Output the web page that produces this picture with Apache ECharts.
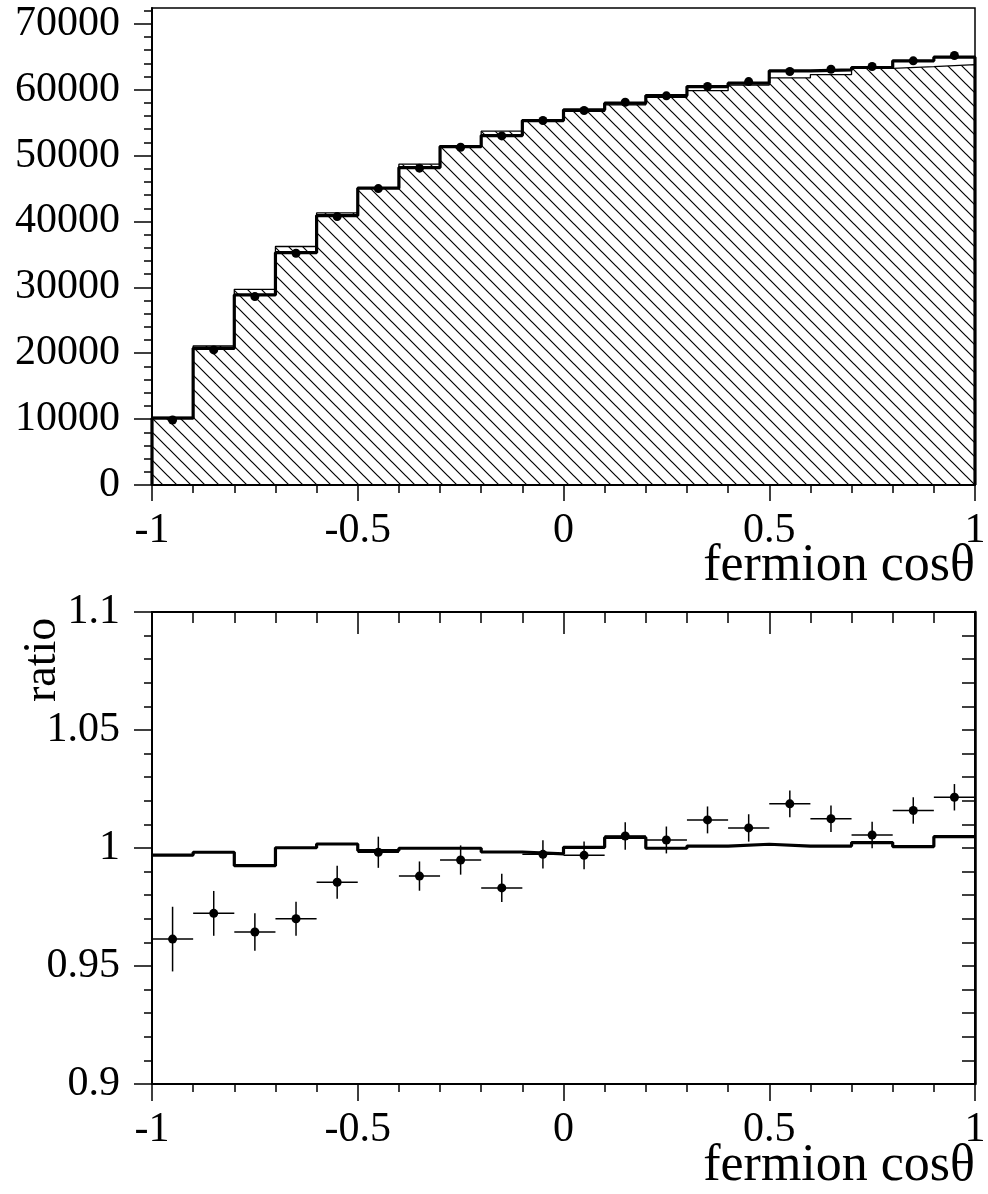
<!DOCTYPE html>
<html><head><meta charset="utf-8">
<script src="https://cdn.jsdelivr.net/npm/echarts@6/dist/echarts.min.js"></script>
<style>html,body{margin:0;padding:0;background:#fff}#c{width:988px;height:1194px}</style>
</head><body><div id="c"></div>
<script>
// ---- data ----
const binEdges = [-1.0,-0.9,-0.8,-0.7,-0.6,-0.5,-0.4,-0.3,-0.2,-0.1,0.0,0.1,0.2,0.3,0.4,0.5,0.6,0.7,0.8,0.9,1.0];
const mcHatched = [10300,21100,29700,36200,41300,45100,48700,51500,53700,55450,56700,57700,58850,59850,60700,61800,62300,63250,63500,63800];
const mcThick = [10130,20750,28850,35270,40900,45050,48180,51370,53040,55320,56940,57950,59110,60480,60990,62860,63010,63370,64380,64940];
const dataTop = [9870,20500,28600,35180,40740,44990,48090,51270,52990,55320,56840,58100,59070,60480,61230,62760,63110,63520,64380,65190];
const ratioLine = [0.9970,0.9982,0.9925,1.0001,1.0017,0.9989,0.9999,0.9999,0.9983,0.9975,1.0003,1.0045,0.9999,1.0008,1.0016,1.0008,1.0008,1.0023,1.0006,1.0048];
const ratioData = [0.9614,0.9723,0.9644,0.9700,0.9855,0.9982,0.9881,0.9949,0.9831,0.9973,0.9969,1.0051,1.0034,1.0119,1.0085,1.0187,1.0124,1.0055,1.0159,1.0215];
const ratioErr = [0.0137,0.0095,0.0079,0.0072,0.0070,0.0066,0.0062,0.0062,0.0060,0.0060,0.0059,0.0058,0.0057,0.0057,0.0058,0.0057,0.0056,0.0056,0.0056,0.0056];
const topYTicks = [0,10000,20000,30000,40000,50000,60000,70000];
const xName = 'fermion cos\u03b8';
const yNameRatio = 'ratio';

// ---- helpers ----
function stepData(vals, closeToZero){
  const out = [];
  if (closeToZero) out.push([binEdges[0], 0]);
  for (let i = 0; i < vals.length; i++) out.push([binEdges[i], vals[i]]);
  out.push([binEdges[vals.length], vals[vals.length-1]]);
  if (closeToZero) out.push([binEdges[vals.length], 0]);
  return out;
}
function centers(vals){ return vals.map((v,i)=>[(binEdges[i]+binEdges[i+1])/2, v]); }
function hatch(){
  const s = 14, c = document.createElement('canvas');
  c.width = s; c.height = s;
  const g = c.getContext('2d');
  g.strokeStyle = '#000'; g.lineWidth = 1.2;
  g.beginPath();
  g.moveTo(-2,-2); g.lineTo(s+2,s+2);
  g.moveTo(-2,s-2); g.lineTo(2,s+2);
  g.moveTo(s-2,-2); g.lineTo(s+2,2);
  g.stroke();
  return c;
}
const fmt = v => String(+(+v).toFixed(4));

const FONT = 'Liberation Serif';
const lab = {fontFamily: FONT, fontSize: 42, color: '#000', formatter: fmt};
const nameFont = {fontFamily: FONT, fontSize: 52, fill: '#000'};
const ratioFont = {fontFamily: FONT, fontSize: 46, fill: '#000'};
const tickLine = {color: '#000', width: 1.5};

const chart = echarts.init(document.getElementById('c'), null, {renderer: 'canvas'});
chart.setOption({
  backgroundColor: '#fff',
  animation: false,
  grid: [
    {left: 152, top: 8, width: 823, height: 477, show: true, borderColor: '#000', borderWidth: 1.5, outerBoundsMode: 'none', containLabel: false},
    {left: 152, top: 612, width: 823, height: 472, show: true, borderColor: '#000', borderWidth: 2, outerBoundsMode: 'none', containLabel: false}
  ],
  xAxis: [
    {gridIndex: 0, type: 'value', min: -1, max: 1, interval: 0.5, position: 'bottom',
     axisLine: {show: true, onZero: false, lineStyle: {color: '#000', width: 2}},
     axisTick: {show: true, inside: false, length: 16, lineStyle: tickLine},
     minorTick: {show: true, splitNumber: 5, length: 8, lineStyle: tickLine},
     axisLabel: Object.assign({margin: 25}, lab),
     splitLine: {show: false}},
    {gridIndex: 1, type: 'value', min: -1, max: 1, interval: 0.5, position: 'bottom',
     axisLine: {show: true, onZero: false, lineStyle: {color: '#000', width: 2}},
     axisTick: {show: true, inside: false, length: 17, lineStyle: tickLine},
     minorTick: {show: true, splitNumber: 5, length: 8, lineStyle: tickLine},
     axisLabel: Object.assign({margin: 25}, lab),
     splitLine: {show: false}},
    {gridIndex: 1, type: 'value', min: -1, max: 1, interval: 0.5, position: 'top',
     axisLine: {show: true, onZero: false, lineStyle: {color: '#000', width: 2}},
     axisTick: {show: true, inside: true, length: 22, lineStyle: tickLine},
     minorTick: {show: true, splitNumber: 5, length: 11, lineStyle: tickLine},
     axisLabel: {show: false}, splitLine: {show: false}}
  ],
  yAxis: [
    {gridIndex: 0, type: 'value', min: 0, max: 72400, interval: 10000, position: 'left',
     axisLine: {show: true, onZero: false, lineStyle: {color: '#000', width: 2}},
     axisTick: {show: true, inside: false, length: 18, customValues: topYTicks, lineStyle: tickLine},
     minorTick: {show: true, splitNumber: 5, length: 8, lineStyle: tickLine},
     axisLabel: Object.assign({margin: 32, customValues: topYTicks}, lab),
     splitLine: {show: false}},
    {gridIndex: 1, type: 'value', min: 0.9, max: 1.1, interval: 0.05, position: 'left',
     axisLine: {show: true, onZero: false, lineStyle: {color: '#000', width: 2}},
     axisTick: {show: true, inside: false, length: 18, lineStyle: tickLine},
     minorTick: {show: true, splitNumber: 5, length: 8, lineStyle: tickLine},
     axisLabel: Object.assign({margin: 32}, lab),
     splitLine: {show: false}},
    {gridIndex: 1, type: 'value', min: 0.9, max: 1.1, interval: 0.05, position: 'right',
     axisLine: {show: true, onZero: false, lineStyle: {color: '#000', width: 2.5}},
     axisTick: {show: true, inside: true, length: 13, lineStyle: tickLine},
     minorTick: {show: true, splitNumber: 5, length: 13, lineStyle: tickLine},
     axisLabel: {show: false}, splitLine: {show: false}}
  ],
  graphic: [
    {type: 'text', right: 13, top: 540, style: Object.assign({text: xName}, nameFont)},
    {type: 'text', right: 13, top: 1140, style: Object.assign({text: xName}, nameFont)},
    {type: 'text', x: 20, y: 702, rotation: Math.PI / 2, style: Object.assign({text: yNameRatio, textAlign: 'left', textVerticalAlign: 'top'}, ratioFont)}
  ],
  series: [
    {type: 'line', xAxisIndex: 0, yAxisIndex: 0, step: 'end', data: stepData(mcHatched, true),
     symbol: 'none', lineStyle: {color: '#000', width: 1.3},
     areaStyle: {color: {image: hatch(), repeat: 'repeat'}, opacity: 1}, z: 2},
    {type: 'line', xAxisIndex: 0, yAxisIndex: 0, step: 'end', data: stepData(mcThick, true),
     symbol: 'none', lineStyle: {color: '#000', width: 3.2}, z: 3},
    {type: 'scatter', xAxisIndex: 0, yAxisIndex: 0, data: centers(dataTop),
     symbol: 'circle', symbolSize: 9, itemStyle: {color: '#000', opacity: 1}, z: 4},
    {type: 'line', xAxisIndex: 1, yAxisIndex: 1, step: 'end', data: stepData(ratioLine, false),
     symbol: 'none', lineStyle: {color: '#000', width: 3.2}, z: 3},
    {type: 'custom', xAxisIndex: 1, yAxisIndex: 1,
     data: ratioData.map((v,i)=>[(binEdges[i]+binEdges[i+1])/2, v, ratioErr[i], binEdges[i], binEdges[i+1]]),
     renderItem: function(params, api){
       const x = api.value(0), y = api.value(1), e = api.value(2);
       const l = api.coord([api.value(3), y]), r = api.coord([api.value(4), y]);
       const t = api.coord([x, y + e]), b = api.coord([x, y - e]);
       const st = {stroke: '#000', lineWidth: 1.5};
       return {type: 'group', children: [
         {type: 'line', shape: {x1: l[0], y1: l[1], x2: r[0], y2: r[1]}, style: st},
         {type: 'line', shape: {x1: t[0], y1: t[1], x2: b[0], y2: b[1]}, style: st}
       ]};
     }, z: 4},
    {type: 'scatter', xAxisIndex: 1, yAxisIndex: 1, data: centers(ratioData),
     symbol: 'circle', symbolSize: 9, itemStyle: {color: '#000', opacity: 1}, z: 5}
  ]
});
</script></body></html>
